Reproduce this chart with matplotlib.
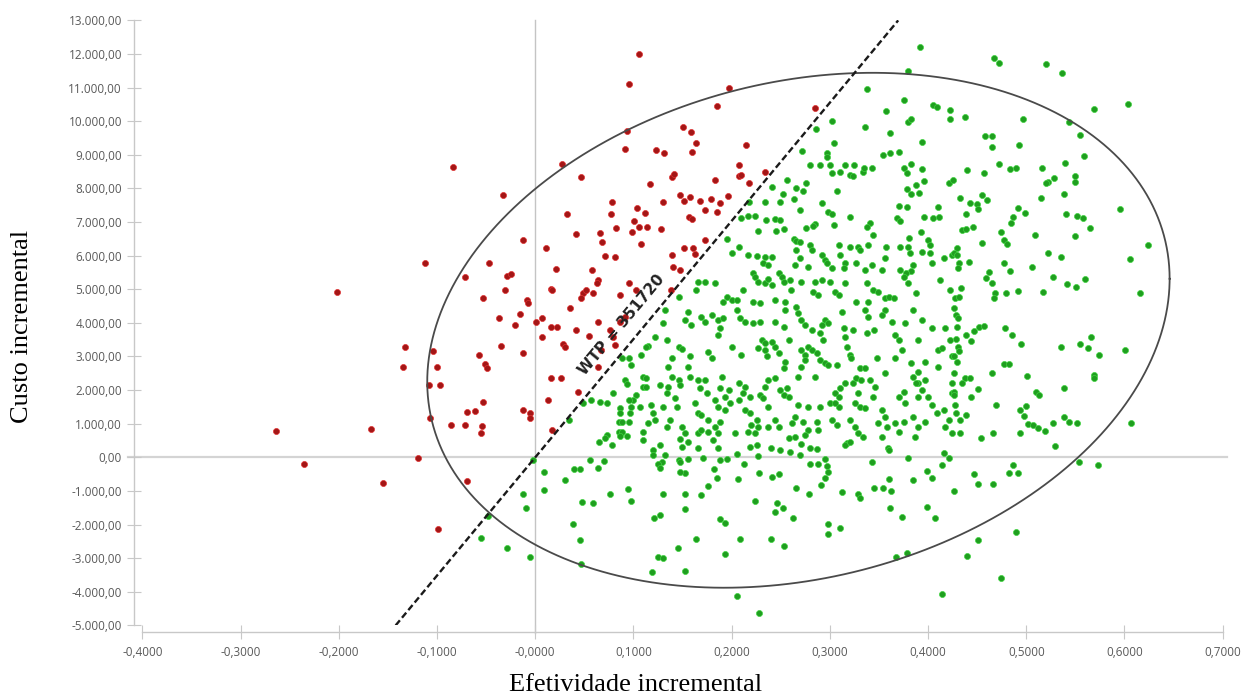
import numpy as np
import matplotlib
matplotlib.use("Agg")
import matplotlib.pyplot as plt

# ---------------- data ----------------
x_ticks = [-0.4, -0.3, -0.2, -0.1, 0.0, 0.1, 0.2, 0.3, 0.4, 0.5, 0.6, 0.7]
x_tick_labels = ["-0,4000", "-0,3000", "-0,2000", "-0,1000", "-0,0000", "0,1000",
                 "0,2000", "0,3000", "0,4000", "0,5000", "0,6000", "0,7000"]
y_ticks = list(range(-5000, 13001, 1000))
y_tick_labels = ["-5.000,00", "-4.000,00", "-3.000,00", "-2.000,00", "-1.000,00", "0,00",
                 "1.000,00", "2.000,00", "3.000,00", "4.000,00", "5.000,00", "6.000,00",
                 "7.000,00", "8.000,00", "9.000,00", "10.000,00", "11.000,00", "12.000,00",
                 "13.000,00"]

x_label = "Efetividade incremental"
y_label = "Custo incremental"
wtp_value = 35172
wtp_label = "WTP = 351720"

# ellipse (center, half extents, correlation)
ell_center = (0.268, 3780)
ell_half = (0.3780, 7660)
ell_rho = 0.20

# red points (not cost-effective), (effectiveness, cost)
red_pts = [
    (-0.202, 4910), (-0.264, 790), (-0.235, -210), (-0.167, 830), (-0.155, -760), (-0.133, 3290),
    (-0.135, 2680), (-0.119, -20), (-0.070, -690), (-0.099, -2130),
    (-0.112, 5780), (-0.047, 5780), (-0.072, 5360), (-0.029, 5400), (-0.025, 5440), (-0.031, 4980),
    (-0.053, 4730), (-0.008, 4680), (-0.007, 4580), (0.011, 6220), (-0.012, 6470), (-0.016, 4260),
    (-0.037, 4150), (-0.021, 3940), (0.001, 4020), (0.007, 4140), (0.021, 5600), (0.016, 5010),
    (0.017, 4970), (0.016, 3870), (0.022, 3870), (0.007, 3580), (0.028, 3360), (0.030, 3270),
    (0.035, 4430), (0.041, 3780), (0.055, 3610), (0.064, 4030), (0.068, 6410), (0.071, 6000),
    (0.081, 5970), (0.058, 5570), (0.064, 5280), (0.063, 5180), (0.049, 4880), (0.047, 4730),
    (0.052, 4980), (0.059, 4900), (0.086, 4830), (0.095, 5180), (0.103, 4980), (0.108, 6350),
    (0.091, 4180), (0.086, 4030), (0.076, 3790), (0.079, 3590), (0.081, 3340), (0.067, 3190),
    (0.064, 2700), (-0.012, 3110), (-0.035, 3310), (-0.057, 3030), (-0.051, 2770), (-0.049, 2650),
    (-0.104, 3160), (-0.100, 2690), (-0.108, 2150), (-0.097, 2150), (-0.053, 1650), (-0.070, 1340),
    (-0.061, 1380), (-0.107, 1160), (-0.086, 950), (-0.072, 950), (-0.054, 930), (-0.055, 730),
    (-0.012, 1410), (-0.005, 1310), (-0.005, 1180), (0.016, 2360), (0.026, 2360), (0.013, 1710),
    (0.044, 1950), (0.017, 810),
    (0.106, 12000), (0.095, 11100), (0.197, 10980), (0.185, 10450), (0.093, 9710), (0.091, 9180),
    (0.150, 9840), (0.159, 9690), (0.164, 9360), (0.160, 9080), (0.123, 9140), (0.131, 9040),
    (0.215, 9290), (0.285, 10380), (-0.084, 8650), (0.027, 8720), (0.047, 8350), (-0.033, 7810),
    (0.032, 7230), (0.042, 6650), (0.066, 6660), (0.078, 7590), (0.077, 7240), (0.082, 6830),
    (0.104, 7410), (0.112, 7270), (0.101, 7020), (0.106, 6860), (0.114, 6860), (0.099, 6690),
    (0.128, 6780), (0.130, 7590), (0.117, 8140), (0.139, 8350), (0.141, 8430), (0.147, 7800),
    (0.151, 7630), (0.158, 7740), (0.168, 7630), (0.157, 7140), (0.160, 7080), (0.173, 7350),
    (0.179, 7680), (0.188, 7570), (0.196, 7770), (0.185, 7310), (0.183, 8240), (0.207, 8710),
    (0.207, 8380), (0.210, 8400), (0.218, 8170), (0.234, 8500), (0.173, 6470), (0.151, 6220),
    (0.161, 6220),
    (0.139, 6020), (0.140, 5670), (0.147, 5570), (0.163, 6050), (0.138, 4980),
]

# green points (cost-effective), (effectiveness, cost)
green_pts = [
    # upper right
    (0.392, 12220), (0.380, 11490), (0.467, 11870), (0.472, 11740), (0.520, 11710), (0.536, 11420),
    (0.338, 10950), (0.375, 10630), (0.405, 10480), (0.409, 10410), (0.422, 10330), (0.422, 10060),
    (0.438, 10120), (0.357, 10310), (0.380, 9980), (0.383, 10060), (0.336, 9840), (0.302, 10010),
    (0.286, 9760), (0.361, 9640), (0.497, 10060), (0.544, 9980), (0.569, 10370), (0.604, 10510),
    (0.555, 9580), (0.559, 8960), (0.458, 9570), (0.465, 9570), (0.465, 9220), (0.493, 9280),
    (0.304, 9360), (0.394, 9390), (0.272, 9120), (0.297, 9040), (0.297, 8940), (0.354, 8990),
    (0.361, 9060), (0.370, 9090),
    (0.280, 8690), (0.290, 8690), (0.300, 8690), (0.315, 8690), (0.325, 8690),
    (0.302, 8470), (0.310, 8500), (0.321, 8410), (0.324, 8380), (0.334, 8500), (0.335, 8600),
    (0.343, 8600), (0.375, 8620), (0.379, 8450), (0.383, 8720), (0.394, 8570), (0.440, 8540),
    (0.457, 8470), (0.472, 8720), (0.483, 8570), (0.490, 8600), (0.516, 8600), (0.539, 8770),
    (0.550, 8370), (0.550, 8200),
    (0.276, 8170), (0.273, 7920), (0.307, 7920), (0.421, 8170), (0.425, 8250), (0.379, 7970),
    (0.383, 7830), (0.391, 7870), (0.388, 8090), (0.396, 8230), (0.292, 7560), (0.298, 7310),
    (0.302, 7240), (0.321, 7140), (0.370, 7480), (0.379, 7440), (0.368, 7110), (0.371, 7040),
    (0.341, 6980), (0.338, 6860), (0.304, 6910), (0.276, 6810), (0.285, 6940), (0.344, 6610),
    (0.410, 7440), (0.405, 7110), (0.411, 7140), (0.396, 7160), (0.393, 6700), (0.439, 7240),
    (0.433, 7710), (0.443, 7570), (0.455, 7800), (0.460, 7660), (0.450, 7540), (0.451, 7380),
    (0.435, 6760), (0.439, 6780), (0.446, 6860), (0.474, 6710), (0.477, 6470), (0.484, 6980),
    (0.487, 7140), (0.492, 7410), (0.499, 7260), (0.509, 6610), (0.515, 7710), (0.522, 8200),
    (0.528, 8300), (0.520, 8150), (0.538, 7840), (0.540, 7240), (0.552, 7180), (0.558, 7110),
    (0.565, 6810), (0.550, 6580), (0.595, 7380), (0.624, 6320), (0.455, 6380), (0.321, 6270),
    (0.329, 6270), (0.339, 6320), (0.309, 6320), (0.280, 6320), (0.357, 6270), (0.371, 6270),
    (0.381, 6520), (0.380, 6250), (0.400, 6470), (0.402, 6320), (0.429, 6220),
    # near the WTP line, top
    (0.256, 8250), (0.266, 8000), (0.241, 8050), (0.252, 7830), (0.234, 7590), (0.249, 7590),
    (0.263, 7680), (0.270, 7360), (0.210, 7110), (0.217, 7180), (0.224, 7180), (0.235, 7060),
    (0.244, 7080), (0.249, 7060), (0.227, 6740), (0.245, 6740), (0.253, 6780), (0.264, 6490),
    (0.266, 6440), (0.270, 6410), (0.283, 6880), (0.195, 6490), (0.207, 6270), (0.218, 7600),
    # centre block
    (0.200, 6090), (0.217, 6020), (0.226, 6000), (0.234, 5970), (0.241, 5970), (0.232, 5790),
    (0.237, 5720), (0.266, 6170), (0.270, 5920), (0.265, 5720), (0.282, 6170), (0.278, 5670),
    (0.292, 6020), (0.295, 5870), (0.297, 5770), (0.302, 5620), (0.310, 6020),
    (0.331, 6170), (0.315, 5770), (0.314, 5620), (0.327, 5790), (0.343, 5720), (0.356, 5920),
    (0.353, 5570), (0.382, 6070), (0.385, 5720), (0.383, 5550), (0.394, 6120), (0.402, 6070),
    (0.416, 5920), (0.424, 6020), (0.404, 5770), (0.371, 5570), (0.378, 5470), (0.336, 5570),
    (0.166, 5220), (0.173, 5220), (0.164, 4980), (0.183, 5180), (0.146, 4780), (0.195, 4780),
    (0.191, 4630), (0.200, 4680), (0.205, 4680), (0.212, 4980), (0.222, 5470), (0.224, 5370),
    (0.227, 5220), (0.234, 5180), (0.237, 5300), (0.241, 5130), (0.248, 5470), (0.251, 5370),
    (0.253, 5220), (0.259, 5280), (0.260, 4980), (0.244, 4680), (0.254, 4630), (0.271, 5220),
    (0.285, 5220), (0.292, 5280), (0.300, 5220), (0.283, 4930), (0.288, 4830), (0.305, 4930),
    (0.309, 4830), (0.315, 5180), (0.327, 4630), (0.339, 4630), (0.338, 5180), (0.344, 4980),
    (0.349, 4930), (0.356, 4730), (0.360, 4780), (0.365, 4730), (0.376, 5360), (0.380, 5180),
    (0.388, 4880), (0.412, 5280), (0.422, 4980), (0.356, 4380), (0.353, 4230),
    (0.156, 4330), (0.152, 4090), (0.159, 3940), (0.169, 4180), (0.173, 4030), (0.180, 4230),
    (0.186, 4090), (0.191, 4140), (0.188, 3840), (0.186, 3640), (0.209, 4140), (0.214, 4030),
    (0.222, 4000), (0.229, 4030), (0.222, 4630), (0.229, 4580), (0.205, 4380), (0.244, 4030),
    (0.254, 4380), (0.253, 3890), (0.266, 4480), (0.268, 4280), (0.271, 4090), (0.275, 3940),
    (0.282, 3790), (0.290, 3690), (0.293, 3490), (0.295, 4090), (0.292, 3940), (0.298, 3990),
    (0.312, 4330), (0.314, 3840), (0.315, 3590), (0.324, 3790), (0.336, 4380), (0.339, 4180),
    (0.338, 3690), (0.345, 3790), (0.363, 4030), (0.366, 3640), (0.370, 3490), (0.377, 3990),
    (0.385, 4380), (0.394, 4090), (0.390, 3490), (0.404, 3840), (0.417, 3840), (0.410, 3190),
    (0.414, 3240), (0.422, 3490),
    (0.146, 3290), (0.149, 3210), (0.139, 2950), (0.158, 3000), (0.176, 3140), (0.180, 2950),
    (0.200, 3290), (0.210, 3040), (0.227, 3240), (0.234, 3190), (0.244, 3290), (0.248, 3090),
    (0.236, 3000), (0.231, 3490), (0.234, 3390), (0.241, 3440), (0.258, 3490), (0.254, 2840),
    (0.253, 2650), (0.271, 3190), (0.275, 3040), (0.278, 3290), (0.282, 3190), (0.287, 3090),
    (0.290, 2900), (0.295, 2800), (0.298, 2750), (0.307, 2750), (0.271, 2700), (0.275, 2900),
    (0.268, 2400), (0.285, 2400), (0.317, 3290), (0.321, 3040), (0.322, 2950), (0.331, 2650),
    (0.336, 2650), (0.348, 2950), (0.356, 2500), (0.366, 2950), (0.373, 3190), (0.383, 2800),
    (0.390, 2550), (0.397, 2840), (0.410, 2700), (0.424, 3000), (0.385, 2400), (0.390, 2200),
    (0.397, 2300),
    (0.135, 2700), (0.139, 2400), (0.146, 2300), (0.147, 2150), (0.156, 2700), (0.158, 2400),
    (0.166, 2300), (0.168, 2050), (0.173, 2300), (0.175, 1900), (0.134, 1900), (0.142, 1760),
    (0.144, 1510), (0.163, 1610), (0.166, 1310), (0.169, 1260), (0.190, 2400), (0.188, 2050),
    (0.197, 2000), (0.193, 1800), (0.183, 1710), (0.186, 1510), (0.193, 1410), (0.198, 1610),
    (0.207, 2200), (0.214, 2100), (0.212, 1900), (0.207, 1710), (0.219, 1800), (0.176, 1110),
    (0.183, 910), (0.188, 1060), (0.186, 710), (0.166, 710), (0.169, 810), (0.176, 760),
    (0.149, 910), (0.137, 1110), (0.214, 1410), (0.219, 1310), (0.226, 1110), (0.203, 710),
    (0.220, 960), (0.217, 760), (0.227, 910), (0.224, 710), (0.229, 1850), (0.232, 1760),
    (0.237, 2300), (0.234, 2100), (0.244, 2350), (0.237, 1510), (0.249, 2000), (0.253, 1850),
    (0.256, 2050), (0.258, 1800), (0.265, 1210), (0.261, 1010), (0.244, 1110), (0.248, 910),
    (0.237, 910), (0.273, 1060), (0.278, 810), (0.275, 660), (0.287, 1060), (0.288, 810),
    (0.268, 1560), (0.278, 1510), (0.290, 1510), (0.300, 1610), (0.305, 1900), (0.309, 1800),
    (0.310, 2050), (0.309, 1510), (0.305, 1610), (0.302, 1110), (0.307, 960), (0.315, 2200),
    (0.324, 2200), (0.327, 2350), (0.332, 2300), (0.329, 1900), (0.326, 1610), (0.331, 1510),
    (0.336, 1460), (0.321, 1110), (0.326, 910), (0.329, 710), (0.341, 2300), (0.346, 2100),
    (0.344, 1800), (0.353, 1410), (0.356, 1210), (0.349, 1010), (0.358, 910), (0.370, 1800),
    (0.375, 1950), (0.377, 1610), (0.366, 1010), (0.375, 1060), (0.370, 760), (0.388, 2200),
    (0.394, 2000), (0.390, 1800), (0.400, 1800), (0.404, 1560), (0.385, 1210), (0.390, 910),
    (0.397, 1060), (0.409, 1310), (0.416, 1410), (0.417, 910), (0.424, 710), (0.421, 1110),
    (0.424, 2200), (0.424, 1900), (0.135, 2100), (0.152, 710),
    # right block
    (0.480, 6350), (0.426, 6070), (0.429, 6020), (0.432, 5770), (0.431, 5620), (0.442, 5820),
    (0.477, 5770), (0.483, 5550), (0.506, 5650), (0.522, 6070), (0.535, 5970), (0.606, 5890),
    (0.462, 5520), (0.459, 5330), (0.465, 5190), (0.527, 5360), (0.541, 5150), (0.551, 5060),
    (0.560, 5310), (0.492, 4960), (0.517, 4920), (0.468, 4900), (0.467, 4730), (0.479, 4880),
    (0.616, 4880), (0.434, 5030), (0.427, 4730), (0.432, 4780), (0.426, 4430), (0.428, 4230),
    (0.430, 4140), (0.429, 3870), (0.439, 3650), (0.444, 3450), (0.447, 3770), (0.452, 3870),
    (0.457, 3910), (0.478, 3840), (0.485, 3640), (0.495, 3360), (0.535, 3290), (0.555, 3360),
    (0.563, 3260), (0.566, 3570), (0.574, 3040), (0.601, 3190), (0.428, 3510), (0.430, 3270),
    (0.432, 3170), (0.426, 3000), (0.429, 2840), (0.477, 2780), (0.482, 2780), (0.465, 2500),
    (0.426, 2520), (0.438, 2350), (0.435, 2200), (0.443, 2350), (0.501, 2420), (0.569, 2450),
    (0.569, 2350), (0.538, 2070), (0.451, 2020), (0.426, 1950), (0.426, 1850), (0.444, 1800),
    (0.510, 1950), (0.513, 1850), (0.469, 1570), (0.427, 1560), (0.428, 1310), (0.433, 1110),
    (0.439, 1260), (0.494, 1410), (0.500, 1530), (0.498, 1230), (0.502, 980), (0.507, 960),
    (0.512, 860), (0.519, 790), (0.527, 1010), (0.538, 1210), (0.544, 1060), (0.552, 1010),
    (0.607, 1010), (0.433, 730), (0.466, 730), (0.494, 730), (0.454, 570),
    # left of centre, above zero
    (0.132, 4380), (0.130, 3990), (0.122, 3590), (0.115, 3310), (0.108, 3040), (0.098, 2750),
    (0.095, 2950), (0.110, 2400), (0.113, 2350), (0.110, 2100), (0.113, 2100), (0.127, 2150),
    (0.091, 2300), (0.093, 2180), (0.103, 1850), (0.100, 1710), (0.095, 1710), (0.098, 1510),
    (0.086, 1460), (0.086, 1310), (0.096, 1310), (0.118, 1560), (0.120, 1310), (0.122, 1110),
    (0.115, 1010), (0.110, 760), (0.085, 1060), (0.088, 1060), (0.095, 1060), (0.085, 760),
    (0.088, 760), (0.073, 660), (0.049, 1610), (0.057, 1710), (0.066, 1650), (0.034, 1110),
    (0.113, 3290), (0.134, 3490), (0.079, 1900), (0.073, 1610), (0.130, 1510), (0.134, 910),
    (0.107, 1510), (0.088, 2950),
    # left, below zero
    (-0.002, -80), (0.009, -430), (0.009, -970), (-0.012, -1090), (-0.009, -1520), (-0.048, -1740),
    (-0.055, -2390), (-0.029, -2710), (-0.005, -2970), (0.030, -680), (0.039, -350), (0.046, -350),
    (0.056, -80), (0.064, -330), (0.070, -110), (0.048, -1340), (0.059, -1370), (0.038, -1980),
    (0.046, -2460), (0.047, -3180), (0.076, -1080), (0.094, -930), (0.098, -1300), (0.065, 460),
    (0.071, 580), (0.078, 370), (0.086, 640), (0.093, 640), (0.110, 520), (0.120, 220),
    (0.120, 70), (0.127, 370), (0.129, -130), (0.125, -210), (0.132, 70), (0.127, -330),
    (0.130, -1080), (0.121, -1800), (0.127, -1720), (0.125, -2960), (0.130, -3000), (0.119, -3420),
    # middle, below zero
    (0.147, 540), (0.149, 320), (0.156, 460), (0.146, -80), (0.147, -150), (0.152, -460),
    (0.147, -430), (0.156, -50), (0.166, 290), (0.171, -10), (0.181, 520), (0.186, 290),
    (0.188, -80), (0.195, -50), (0.182, -360), (0.185, -610), (0.176, -850), (0.169, -1120),
    (0.152, -1080), (0.153, -1550), (0.145, -2710), (0.152, -3380), (0.164, -2430), (0.188, -1840),
    (0.193, -1960), (0.193, -2880), (0.205, 90), (0.206, -650), (0.213, -210), (0.219, 320),
    (0.226, 370), (0.227, 50), (0.228, -480), (0.224, -1300), (0.209, -2420), (0.205, -4120),
    (0.228, -4620), (0.240, 270), (0.249, 220), (0.259, 150), (0.241, -580), (0.248, -510),
    (0.246, -1370), (0.244, -1620), (0.252, -1520), (0.262, -1800), (0.240, -2420), (0.253, -2630),
    (0.258, 570), (0.265, 610), (0.271, 390), (0.270, 70), (0.266, -920), (0.280, 290),
    (0.287, 250), (0.280, -210), (0.288, -210), (0.295, -50), (0.297, -250), (0.298, -450),
    (0.295, -610), (0.291, -820), (0.279, -1080), (0.298, -1980), (0.298, -2270), (0.310, -2090),
    (0.312, -1020), (0.317, 420), (0.315, 370), (0.321, 450), (0.329, -1080), (0.331, -1220),
    (0.334, 610), (0.343, -130), (0.345, -900), (0.354, -900), (0.360, -650), (0.362, -1000),
    (0.359, 290), (0.360, 220), (0.353, 610), (0.361, -1500), (0.373, -1770), (0.367, -2960),
    (0.379, -2860), (0.380, -10), (0.387, 610), (0.385, -680), (0.399, -410), (0.404, -610),
    (0.399, -1470), (0.407, -1800), (0.414, -230), (0.416, 120), (0.421, -10), (0.414, -4080),
    (0.426, -1000),
    # right, below zero
    (0.529, 340), (0.554, -150), (0.573, -230), (0.487, -230), (0.482, -480), (0.492, -480),
    (0.447, -510), (0.451, -790), (0.466, -790), (0.490, -2210), (0.451, -2460), (0.440, -2930),
    (0.474, -3580),
]

# ---------------- figure ----------------
plt.rcParams["font.family"] = ["Open Sans", "DejaVu Sans"]
fig = plt.figure(figsize=(12.54, 7.0), dpi=100)
ax = fig.add_axes([0.1136, 0.1066, 0.8614, 0.8643])
ax.set_xlim(-0.4, 0.7)
ax.set_ylim(-5000, 13000)

# zero reference lines
ax.axhline(0, xmin=-0.0135, xmax=1.004, color="#d4d4d4", lw=1.6, zorder=1, clip_on=False)
ax.axvline(0, ymin=-0.012, ymax=1.0, color="#c4c4c4", lw=1.0, zorder=1, clip_on=False)

# points
red = np.array(red_pts)
green = np.array(green_pts)
ax.scatter(green[:, 0], green[:, 1], s=19, c="#1f9e1f", edgecolors="#3fd43f",
           linewidths=0.5, zorder=3)
ax.scatter(red[:, 0], red[:, 1], s=19, c="#a31616", edgecolors="#e03030",
           linewidths=0.5, zorder=3)

# confidence ellipse
t = np.linspace(0, 2 * np.pi, 500)
ex = ell_center[0] + ell_half[0] * np.cos(t)
ey = ell_center[1] + ell_half[1] * (ell_rho * np.cos(t) + np.sqrt(1 - ell_rho ** 2) * np.sin(t))
ax.plot(ex, ey, color="#4a4a4a", lw=1.3, zorder=4)

# WTP line
lx = np.array([-5000 / wtp_value, 13000 / wtp_value])
ax.plot(lx, wtp_value * lx, color="#1a1a1a", lw=1.7, ls=(0, (2.8, 1.4)), zorder=5)

p1 = ax.transData.transform((lx[0], wtp_value * lx[0]))
p2 = ax.transData.transform((lx[1], wtp_value * lx[1]))
ang = np.degrees(np.arctan2(p2[1] - p1[1], p2[0] - p1[0]))
ax.text(0.088, 3950, wtp_label, rotation=ang, rotation_mode="anchor", ha="center", va="center",
        fontsize=11, fontweight="bold", color="#222222", family=["DejaVu Sans"], zorder=6)

# axes styling
for s in ["top", "right"]:
    ax.spines[s].set_visible(False)
ax.spines["left"].set_position(("outward", 5.8))
ax.spines["bottom"].set_position(("outward", 4.8))
for s in ["left", "bottom"]:
    ax.spines[s].set_color("#c8c8c8")
    ax.spines[s].set_linewidth(1.0)

ax.set_xticks(x_ticks)
ax.set_xticklabels(x_tick_labels)
ax.set_yticks(y_ticks)
ax.set_yticklabels(y_tick_labels)
ax.tick_params(axis="both", direction="inout", length=10, width=0.8, color="#c8c8c8",
               labelsize=8.5, labelcolor="#5a5a5a")
ax.tick_params(axis="y", pad=4)
ax.tick_params(axis="x", pad=5)

fig.text(0.507, 0.022, x_label, ha="center", va="center", fontsize=19,
         family=["Liberation Serif"], color="#000000")
fig.text(0.0175, 0.533, y_label, ha="center", va="center", rotation=90, fontsize=19,
         family=["Liberation Serif"], color="#000000")

fig.savefig("out.png", dpi=100)
